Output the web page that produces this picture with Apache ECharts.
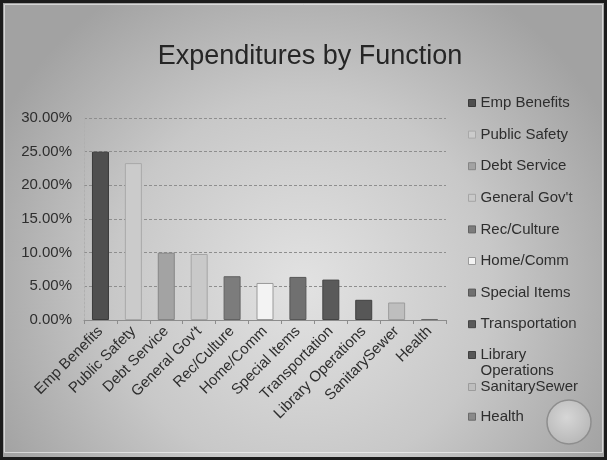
<!DOCTYPE html>
<html>
<head>
<meta charset="utf-8">
<script src="https://cdn.jsdelivr.net/npm/echarts@6/dist/echarts.min.js"></script>
<style>
  html, body { margin: 0; padding: 0; }
  #chart { width: 607px; height: 460px; }
</style>
</head>
<body>
<div id="chart"></div>
<script>
// Spending categories and their share of total expenditures (percent)
const categories = [
  'Emp Benefits', 'Public Safety', 'Debt Service', "General Gov't", 'Rec/Culture',
  'Home/Comm', 'Special Items', 'Transportation', 'Library Operations', 'SanitarySewer', 'Health'
];
const shares = [25.0, 23.3, 10.0, 9.8, 6.5, 5.5, 6.4, 6.0, 3.0, 2.6, 0.15];

// Value axis range (percent)
const axisMin = 0;
const axisMax = 30;
const axisStep = 5;

// Grey shade for each category
const shades = [
  '#4f4f4f', '#cbcbcb', '#a3a3a3', '#c9c9c9', '#7c7c7c',
  '#f3f3f3', '#707070', '#5a5a5a', '#575757', '#bebebe', '#8a8a8a'
];
const outlines = [
  '#3a3a3a', '#a8a8a8', '#858585', '#a5a5a5', '#626262',
  '#9a9a9a', '#575757', '#444444', '#404040', '#9c9c9c', '#6a6a6a'
];

const FONT = "'Liberation Sans', Arial, sans-serif";

const chart = echarts.init(document.getElementById('chart'), null, { renderer: 'canvas' });

const series = categories.map((name, i) => ({
  type: 'bar',
  name: name,
  data: categories.map((_, j) => (j === i ? shares[i] : null)),
  barWidth: 17,
  barGap: '-100%',
  itemStyle: { color: shades[i], borderColor: outlines[i], borderWidth: 1 }
}));

const legendBase = {
  orient: 'vertical',
  left: 463,
  icon: 'rect',
  itemWidth: 7,
  itemHeight: 7,
  itemStyle: { borderWidth: 1 },
  textStyle: { fontFamily: FONT, fontSize: 15, lineHeight: 16, color: '#2e2e2e' }
};

chart.setOption({
  animation: false,
  graphic: [
    {
      type: 'rect', z: -10, silent: true,
      shape: { x: 0, y: 0, width: 607, height: 460 },
      style: {
        fill: new echarts.graphic.RadialGradient(0.5, 0.62, 0.75, [
          { offset: 0, color: '#e2e2e2' },
          { offset: 0.55, color: '#c8c8c8' },
          { offset: 1, color: '#a2a2a2' }
        ])
      }
    },
    {
      type: 'rect', z: 100, silent: true,
      shape: { x: 1.5, y: 1.5, width: 604, height: 457 },
      style: { fill: 'none', stroke: '#1c1c1c', lineWidth: 3 }
    },
    {
      type: 'rect', z: 100, silent: true,
      shape: { x: 4.5, y: 4.5, width: 598, height: 448 },
      style: { fill: 'none', stroke: 'rgba(255,255,255,0.55)', lineWidth: 1 }
    },
    {
      type: 'circle', z: 5, silent: true,
      shape: { cx: 569, cy: 422, r: 22 },
      style: {
        fill: new echarts.graphic.RadialGradient(0.45, 0.4, 0.6, [
          { offset: 0, color: '#d6d6d6' },
          { offset: 1, color: '#b8b8b8' }
        ]),
        stroke: '#8e8e8e', lineWidth: 1.5
      }
    }
  ],
  title: {
    text: 'Expenditures by Function',
    left: 305,
    textAlign: 'center',
    top: 38,
    textStyle: { fontFamily: FONT, fontSize: 27, fontWeight: 'normal', color: '#262626' }
  },
  legend: [
    Object.assign({}, legendBase, {
      data: categories.slice(0, 8),
      top: 90,
      itemGap: 15.6
    }),
    Object.assign({}, legendBase, {
      data: ['Library Operations'],
      top: 326,
      formatter: () => ' \nLibrary\nOperations'
    }),
    Object.assign({}, legendBase, {
      data: categories.slice(9),
      top: 374,
      itemGap: 13.7
    })
  ],
  grid: { left: 84, right: 161, top: 118, bottom: 140 },
  xAxis: {
    type: 'category',
    data: categories,
    axisLine: { lineStyle: { color: '#8c8c8c', width: 1 } },
    axisTick: { show: true, alignWithLabel: false, length: 4, lineStyle: { color: '#8c8c8c' } },
    axisLabel: {
      rotate: 45, interval: 0, margin: 9,
      fontFamily: FONT, fontSize: 15, color: '#2e2e2e'
    }
  },
  yAxis: {
    type: 'value',
    min: axisMin,
    max: axisMax,
    interval: axisStep,
    axisLine: { show: true, lineStyle: { color: '#b0b0b0', type: [2, 2] } },
    axisTick: { show: false },
    splitLine: { lineStyle: { color: '#8e8e8e', type: [3, 2], width: 1 } },
    axisLabel: {
      margin: 12,
      fontFamily: FONT, fontSize: 15, color: '#2e2e2e',
      formatter: (v) => v.toFixed(2) + '%'
    }
  },
  series: series
});
</script>
</body>
</html>
